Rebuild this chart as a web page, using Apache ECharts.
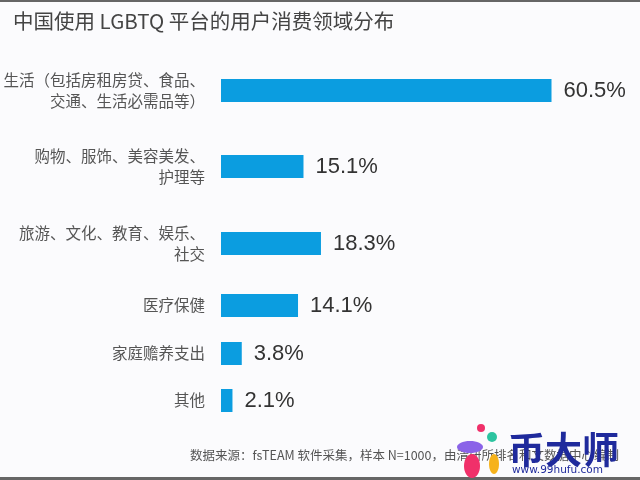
<!DOCTYPE html>
<html><head><meta charset="utf-8">
<script src="https://cdn.jsdelivr.net/npm/echarts@6/dist/echarts.min.js"></script>
<style>html,body{margin:0;padding:0;background:#fbfbfd}#c{width:640px;height:480px}</style>
</head><body><div id="c"></div>
<script>
const categories = ['生活（包括房租房贷、食品、\n交通、生活必需品等）','购物、服饰、美容美发、\n护理等','旅游、文化、教育、娱乐、\n社交','医疗保健','家庭赡养支出','其他'];
const values = [60.5, 15.1, 18.3, 14.1, 3.8, 2.1];
const rowCenters = [90.5, 166.5, 243.5, 305.5, 353.5, 400.5];
const barH = 23;
const chart = echarts.init(document.getElementById('c'), null, {renderer:'canvas'});
const grids = [], xAxes = [], yAxes = [], series = [];
categories.forEach((c, i) => {
  grids.push({left: 221, width: 382.4, top: rowCenters[i] - barH/2, height: barH, outerBoundsMode:'none', containLabel:false});
  xAxes.push({type:'value', gridIndex:i, min:0, max:70, show:false});
  yAxes.push({type:'category', gridIndex:i, data:[c], axisLine:{show:false}, axisTick:{show:false},
    axisLabel:{margin:16, fontSize:15.5, color:'#555', lineHeight:21, fontFamily:'Noto Sans CJK SC', align:'right'}});
  series.push({type:'bar', xAxisIndex:i, yAxisIndex:i, data:[values[i]], barWidth:barH,
    itemStyle:{color:'#0b9de0'}, silent:true, animation:false,
    label:{show:true, position:'right', distance:12, formatter:p=>p.value.toFixed(1)+'%', fontSize:22, color:'#333', fontFamily:'Liberation Sans'}});
});
chart.setOption({
  backgroundColor:'#fbfbfd',
  animation:false,
  title:{text:'中国使用 LGBTQ 平台的用户消费领域分布', left:8, top:6, textStyle:{fontSize:20.5, fontWeight:'normal', color:'#444', fontFamily:'Noto Sans CJK SC'}},
  grid: grids, xAxis: xAxes, yAxis: yAxes, series: series,
  graphic:[
    {type:'rect', shape:{x:0,y:0,width:640,height:2}, style:{fill:'#666'}},
    {type:'rect', shape:{x:0,y:477,width:640,height:3}, style:{fill:'#666'}},
    {type:'text', left:190, top:449, style:{text:'数据来源：fsTEAM 软件采集，样本 N=1000，由清研所排名和文数据中心编制', fontSize:12.5, fill:'#555', fontFamily:'Noto Sans CJK SC'}},
    {type:'ellipse', shape:{cx:470,cy:447,rx:13,ry:6}, style:{fill:'#8a63e8'}},
    {type:'ellipse', shape:{cx:472,cy:466,rx:8,ry:12}, style:{fill:'#f0306a'}},
    {type:'ellipse', shape:{cx:494,cy:464,rx:5,ry:10}, style:{fill:'#f6b21b'}},
    {type:'circle', shape:{cx:492,cy:437,r:5}, style:{fill:'#2cc4a0'}},
    {type:'circle', shape:{cx:481,cy:428,r:4}, style:{fill:'#f0306a'}},
    {type:'text', left:508, top:431, style:{text:'币大师', fontSize:37, fontWeight:'bold', fill:'#1f2a9c', fontFamily:'Noto Sans CJK SC'}},
    {type:'text', left:512, top:465, style:{text:'www.99hufu.com', fontSize:10.5, fill:'#1f2a9c', fontFamily:'DejaVu Sans'}}
  ]
});
</script></body></html>
